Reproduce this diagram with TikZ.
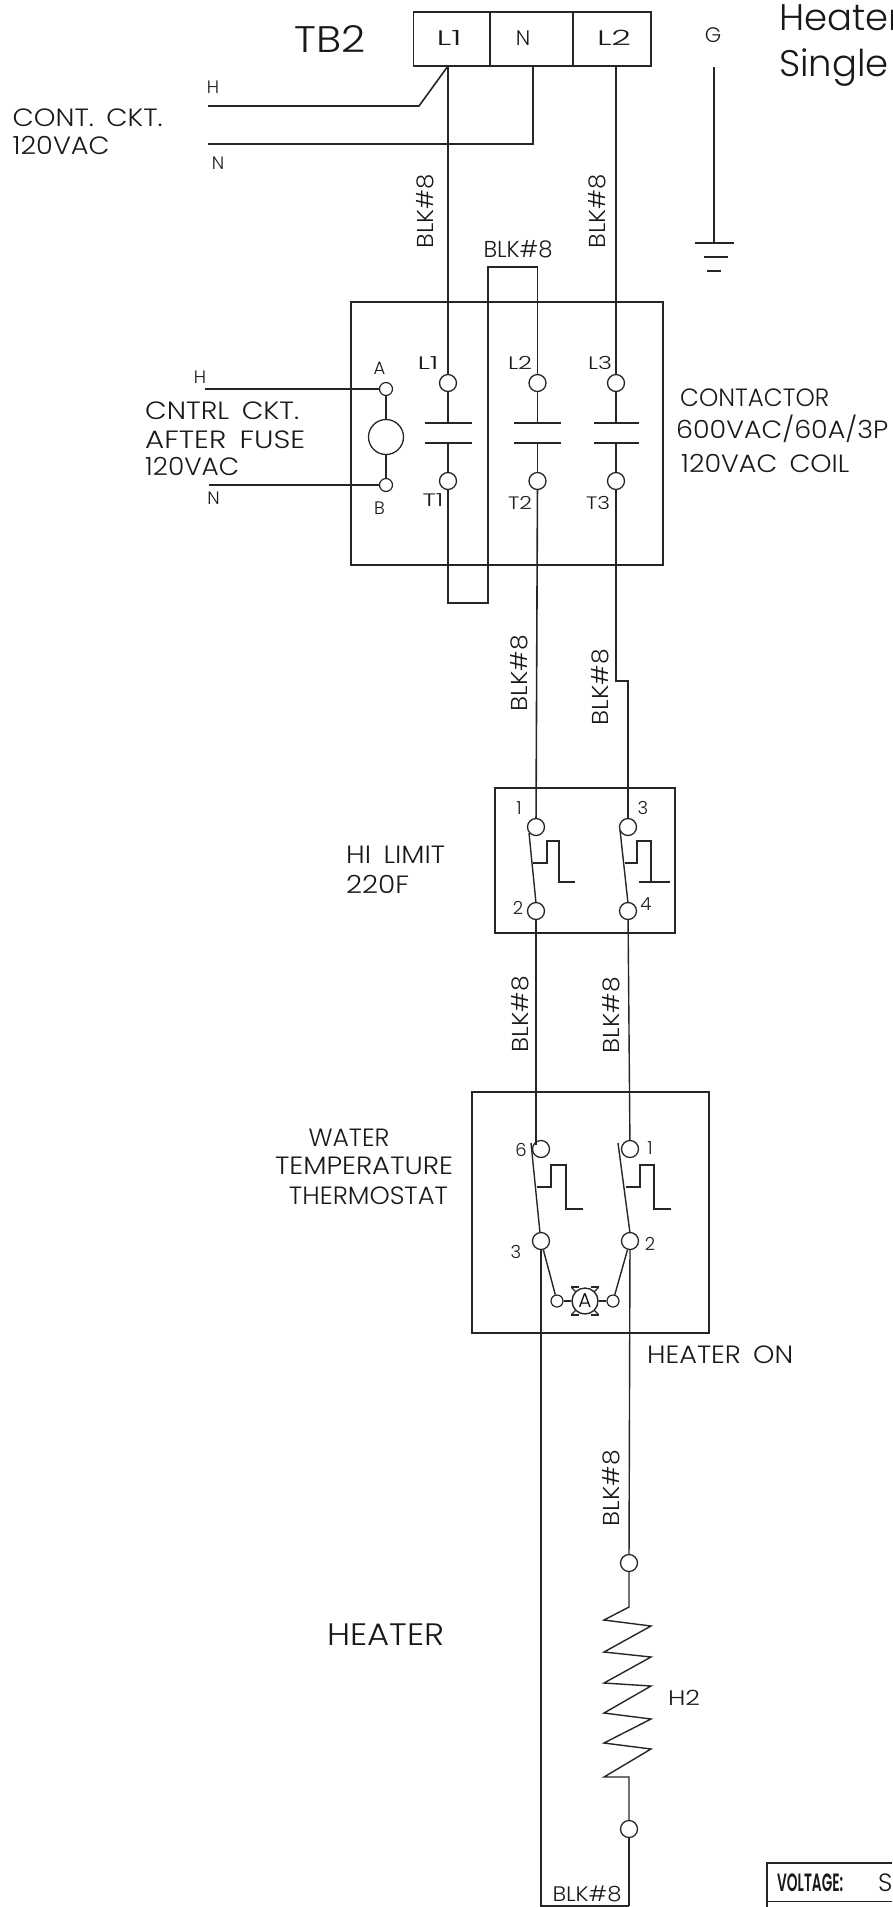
\documentclass[tikz,border=0pt]{standalone}
\usepackage{graphicx}
\usepackage{fontspec}
\setmainfont{Poppins}[UprightFont=* Light,BoldFont=* SemiBold]
\newcommand{\fs}[1]{\fontsize{#1}{#1}\selectfont}
\newcommand{\fw}[2]{\resizebox{#1pt}{\height}{#2}}
\newcommand{\gap}{\hspace{0.45em}}
\tikzset{
  x=1pt,y=-1pt,
  wire/.style={line width=1.6pt,draw=black!85,line join=miter},
  thin wire/.style={line width=1.4pt,draw=black!85},
  term/.style={circle,draw=black!85,line width=1.3pt,fill=white,minimum size=17pt,inner sep=0pt},
  smallterm/.style={circle,draw=black!85,line width=1.2pt,fill=white,minimum size=13pt,inner sep=0pt},
  lbl/.style={inner sep=0pt,text=black!90,font=\fs{25}},
  small lbl/.style={inner sep=0pt,text=black!90,font=\fs{21}},
  tiny lbl/.style={inner sep=0pt,text=black!90,font=\fs{18}},
  wlbl/.style={inner sep=0pt,text=black!90,font=\fs{23}},
  big lbl/.style={inner sep=0pt,text=black!90,font=\fs{37}},
}
\begin{document}
\begin{tikzpicture}
\useasboundingbox (0,0) rectangle (892,1907);
\clip (0,0) rectangle (892,1907);
% TB2
\node[wire,draw,rectangle,minimum width=237.5pt,minimum height=54pt,inner sep=0pt] (tb) at (532.25,39) {};
\coordinate (tb1) at (448,66);
\coordinate (tbn) at (533,66);
\coordinate (tb2) at (616,66);
\draw[wire] (490,12) -- (490,66) (573,12) -- (573,66);
\node[small lbl] (tL1) at (449,38) {\fw{25}{L1}};
\node[small lbl] (tN) at (523,38) {N};
\node[small lbl] (tL2) at (614,38) {\fw{34}{L2}};
\node[big lbl] (tTB) at (330,39) {\fw{71}{TB2}};
\node[small lbl] (tG) at (713,35) {G};
\node[big lbl,anchor=base west] (tH1) at (779,30) {Heater};
\node[big lbl,anchor=base west] (tH2) at (779,76) {Single};
\node[tiny lbl] (tHa) at (213,87) {H};
\node[tiny lbl] (tNa) at (218,163) {N};
\node[lbl,anchor=west] (tc1) at (12.5,118) {\fw{150}{CONT.\gap CKT.}};
\node[lbl,anchor=west] (tc2) at (12.5,145) {\fw{97}{120VAC}};
% control wires
\coordinate (hs) at (208,106);
\coordinate (ns) at (208,144);
\draw[wire] (hs) -- (419,106) -- (tb1);
\draw[wire] (ns) -- (533,144) -- (tbn);
% ground
\coordinate (g0) at (714,67);
\coordinate (g1) at (714,243);
\draw[thin wire] (g0) -- (g1);
\draw[wire] (695,243) -- (734,243) (704,257) -- (728,257) (707,271) -- (721,271);
% contactor
\node[wire,draw,rectangle,minimum width=312pt,minimum height=263pt,inner sep=0pt] (cont) at (507,433.5) {};
\node[term] (cL1) at (448,383) {};
\node[term] (cL2) at (537.5,383) {};
\node[term] (cL3) at (616,383) {};
\node[term] (cT1) at (448,481) {};
\node[term] (cT2) at (537.5,481) {};
\node[term] (cT3) at (616,481) {};
\node[smallterm] (cA) at (386,389) {};
\node[smallterm] (cB) at (386,485) {};
\node[circle,draw=black!85,line width=1.3pt,minimum size=35pt,inner sep=0pt] (coil) at (386,437) {};
\draw[thin wire] (cA) -- (coil) (coil) -- (cB);
\coordinate (hc) at (205,389);
\coordinate (nc) at (209,485);
\draw[wire] (hc) -- (cA);
\draw[wire] (nc) -- (cB);
% main lines above contactor
\draw[thin wire] (tb1) -- (cL1);
\draw[thin wire] (tb2) -- (cL3);
\draw[thin wire] (cL1) -- (448,423) (448,443) -- (cT1);
\draw[thin wire] (cL2) -- (537.5,423) (537.5,443) -- (cT2);
\draw[thin wire] (cL3) -- (616,423) (616,443) -- (cT3);
\draw[wire] (425,423) -- (472,423) (425,443) -- (472,443);
\draw[wire] (514,423) -- (561,423) (514,443) -- (561,443);
\draw[wire] (594,423) -- (639,423) (594,443) -- (639,443);
% jumper
\draw[wire] (cL2) -- (537.5,267) -- (488,267) -- (488,603) -- (448,603) -- (cT1);
% labels contactor
\node[tiny lbl] (la) at (379.5,368) {A};
\node[tiny lbl] (lb) at (379.5,508) {B};
\node[tiny lbl] (l1) at (428,363) {\fw{21}{L1}};
\node[tiny lbl] (l2) at (520,363) {\fw{24}{L2}};
\node[tiny lbl] (l3) at (600,363) {\fw{24}{L3}};
\node[tiny lbl] (t1) at (433,500) {\fw{21}{T1}};
\node[tiny lbl] (t2) at (520,503) {\fw{24}{T2}};
\node[tiny lbl] (t3) at (598,503) {\fw{24}{T3}};
\node[tiny lbl] (hh) at (200,377) {H};
\node[tiny lbl] (nn) at (213.5,498) {N};
\node[lbl,anchor=west] (cc1) at (145,411) {\fw{154}{CNTRL\gap CKT.}};
\node[lbl,anchor=west] (cc2) at (145,440) {\fw{160}{AFTER\gap FUSE}};
\node[lbl,anchor=west] (cc3) at (145,466) {\fw{94}{120VAC}};
\node[lbl,anchor=west] (ct1) at (680,398) {\fw{149}{CONTACTOR}};
\node[lbl,anchor=west] (ct2) at (676,429) {\fw{212}{600VAC/60A/3P}};
\node[lbl,anchor=west] (ct3) at (681,463) {\fw{168}{120VAC\gap COIL}};
% wire labels
\node[wlbl,rotate=90] (w1) at (425,211) {\fw{74}{BLK\#8}};
\node[wlbl,rotate=90] (w2) at (597,211) {\fw{74}{BLK\#8}};
\node[wlbl] (w3) at (518,249) {\fw{69}{BLK\#8}};
\node[wlbl,rotate=90] (w4) at (519,673) {\fw{76}{BLK\#8}};
\node[wlbl,rotate=90] (w5) at (600,687) {\fw{76}{BLK\#8}};
\node[wlbl,rotate=90] (w6) at (520,1014) {\fw{76}{BLK\#8}};
\node[wlbl,rotate=90] (w7) at (611,1015) {\fw{76}{BLK\#8}};
\node[wlbl,rotate=90] (w8) at (611,1488) {\fw{76}{BLK\#8}};
\node[wlbl,font=\fs{21}] (w9) at (587,1894) {\fw{69}{BLK\#8}};
% hi limit
\node[wire,draw,rectangle,minimum width=180pt,minimum height=145pt,inner sep=0pt] (hl) at (585,860.5) {};
\node[term] (h1) at (536,827) {};
\node[term] (h2) at (536,911) {};
\node[term] (h3) at (628,827) {};
\node[term] (h4) at (628,911) {};
\draw[wire] (cT2) -- (h1);
\draw[thin wire] (cT3) -- (616,681) -- (628,681) -- (h3);
\draw[thin wire] (529,833) -- (536,903);
\draw[thin wire] (620,830) -- (628,903);
\draw[thin wire] (533,863) -- (547,863) -- (547,841) -- (559,841) -- (559,882) -- (575,882);
\draw[thin wire] (625,863) -- (637,863) -- (637,841) -- (651,841) -- (651,882);
\draw[thin wire] (639,882) -- (670,882);
\node[tiny lbl] (n1) at (519,808) {1};
\node[tiny lbl] (n3) at (643,808) {3};
\node[tiny lbl] (n2) at (518,908) {2};
\node[tiny lbl] (n4) at (646,904) {4};
\node[lbl,anchor=west] (hi1) at (346,855) {\fw{99}{HI\gap LIMIT}};
\node[lbl,anchor=west] (hi2) at (346,884) {\fw{63}{220F}};
% thermostat
\node[wire,draw,rectangle,minimum width=237pt,minimum height=241pt,inner sep=0pt] (th) at (590.5,1212.5) {};
\node[term] (a6) at (541,1149) {};
\node[term] (a1) at (630,1149) {};
\node[term] (a3) at (541,1241) {};
\node[term] (a2) at (630,1241) {};
\draw[wire] (h2) -- (536,1145);
\draw[thin wire] (h4) -- (a1);
\draw[thin wire] (531,1143) -- (540,1233);
\draw[thin wire] (618,1143) -- (630,1233);
\draw[thin wire] (537,1187) -- (551,1187) -- (551,1165) -- (566,1165) -- (566,1209) -- (583,1209);
\draw[thin wire] (626,1187) -- (640,1187) -- (640,1165) -- (654,1165) -- (654,1209) -- (671,1209);
\node[smallterm,minimum size=12pt] (i1) at (557,1301) {};
\node[smallterm,minimum size=12pt] (i2) at (613,1301) {};
\node[circle,draw=black!85,line width=1.4pt,minimum size=26pt,inner sep=0pt,font=\fs{20}] (lamp) at (585,1301) {A};
\draw[thin wire] (i1) -- (lamp) (lamp) -- (i2);
\draw[line width=1.2pt,draw=black!85] (585,1301) ++(45:13) -- ++(45:6) (585,1301) ++(135:13) -- ++(135:6) (585,1301) ++(225:13) -- ++(225:6) (585,1301) ++(315:13) -- ++(315:6);
\draw[line width=1.2pt,draw=black!85] (571,1287) -- (579,1287) (591,1287) -- (599,1287) (571,1315) -- (579,1315) (591,1315) -- (599,1315);
\draw[thin wire] (a3) -- (i1);
\draw[thin wire] (a2) -- (i2);
\node[tiny lbl] (m6) at (521,1150) {6};
\node[tiny lbl] (m1) at (650,1148) {1};
\node[tiny lbl] (m3) at (516,1252) {3};
\node[tiny lbl] (m2) at (650,1244) {2};
\node[lbl] (wa) at (349,1138) {\fw{81}{WATER}};
\node[lbl] (wb) at (364,1166) {\fw{178}{TEMPERATURE}};
\node[lbl] (wc) at (368.5,1196) {\fw{159}{THERMOSTAT}};
\node[lbl,anchor=west] (on) at (647,1355) {\fw{146}{HEATER\gap ON}};
% heater
\coordinate (bl) at (541,1906);
\coordinate (br) at (629,1906);
\node[term] (r1) at (629,1563) {};
\node[term] (r2) at (629,1829) {};
\draw[wire] (a3) -- (bl) -- (br);
\draw[thin wire] (a2) -- (r1);
\draw[thin wire] (r1) -- (629,1607) -- (604,1620) -- (651,1626) -- (604,1652) -- (651,1657) -- (604,1683) -- (651,1686) -- (604,1713) -- (651,1719) -- (604,1743) -- (651,1749) -- (604,1777) -- (629,1777) -- (r2);
\draw[thin wire] (r2) -- (br);
\node[lbl,font=\fs{31}] (he) at (386,1635) {\fw{117}{HEATER}};
\node[small lbl] (h22) at (684,1698) {\fw{32}{H2}};
% title block
\draw[wire] (892,1863) -- (767,1863) -- (767,1907);
\draw[wire] (767,1901.5) -- (892,1901.5);
\node[lbl,font=\fs{25}\bfseries,anchor=west] (vo) at (777,1883) {\fw{66}{VOLTAGE:}};
\node[lbl,anchor=west] (vs) at (878,1883) {S};
\end{tikzpicture}
\end{document}
